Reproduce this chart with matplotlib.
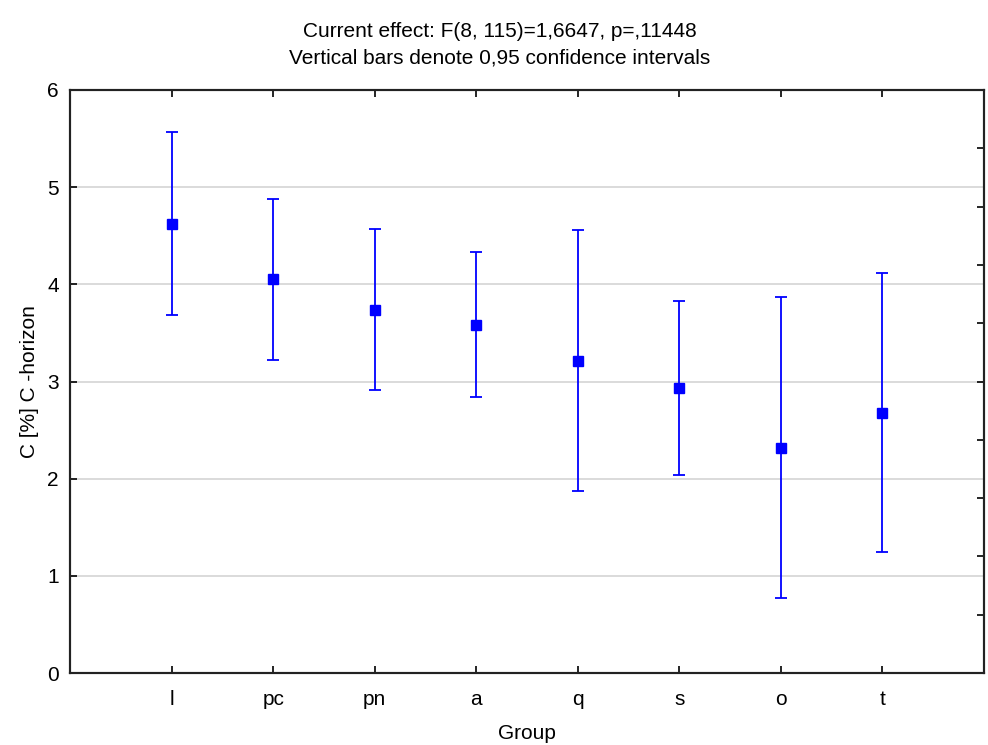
import numpy as np
import matplotlib.pyplot as plt
from matplotlib.ticker import MultipleLocator

plt.rcParams['font.family'] = ['Liberation Sans', 'DejaVu Sans']

# group means and 95% confidence limits
groups = ['l', 'pc', 'pn', 'a', 'q', 's', 'o', 't']
means = [4.62, 4.05, 3.74, 3.58, 3.21, 2.93, 2.32, 2.68]
upper = [5.57, 4.88, 4.57, 4.33, 4.56, 3.83, 3.87, 4.12]
lower = [3.68, 3.22, 2.91, 2.84, 1.87, 2.04, 0.77, 1.25]

x = np.arange(1, len(groups) + 1)
err = [np.array(means) - np.array(lower), np.array(upper) - np.array(means)]

fig = plt.figure(figsize=(9.88, 7.45), dpi=100)
ax = fig.add_axes([0.0709, 0.0966, 0.925, 0.7826])

ax.grid(axis='y', color='#d4d4d4', linewidth=1.2, zorder=0)
ax.errorbar(x, means, yerr=err, fmt='s', color='#0000ff', ecolor='#0000ff',
            markersize=7.5, elinewidth=1.3, capsize=4, capthick=1.3, zorder=3)

ax.set_xlim(0, 9)
ax.set_ylim(0, 6)
ax.set_xticks(x)
ax.set_xticklabels(groups)
ax.set_yticks(range(0, 7))

# right spine ticks without labels
ax2 = ax.twinx()
ax2.set_ylim(0, 6)
ax2.yaxis.set_major_locator(MultipleLocator(0.6))
ax2.tick_params(axis='y', direction='in', length=5, width=1.2, labelright=False)

ax.tick_params(axis='both', direction='in', length=5, width=1.2,
               labelsize=15, pad=8, top=True)
ax.tick_params(axis='x', pad=12)
for a in (ax, ax2):
    for s in a.spines.values():
        s.set_linewidth(1.5)
        s.set_color('#222222')

ax.set_xlabel('Group', fontsize=15, labelpad=11)
ax.set_ylabel('C [%] C -horizon', fontsize=15, labelpad=6)
fig.text(0.506, 0.958, 'Current effect: F(8, 115)=1,6647, p=,11448',
         fontsize=15, ha='center', va='center')
fig.text(0.506, 0.922, 'Vertical bars denote 0,95 confidence intervals',
         fontsize=15, ha='center', va='center')

fig.savefig('out.png', dpi=100)
